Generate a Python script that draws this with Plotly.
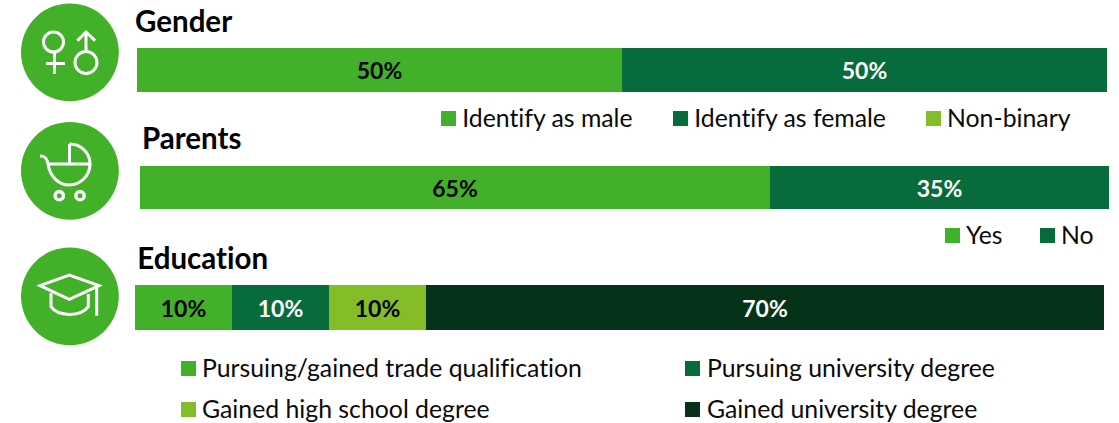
import plotly.graph_objects as go

W, H = 1119, 423
GREEN, DARK, LIME, DEEP = "#43B02A", "#076B3B", "#84BD28", "#05331A"
FONT = "Lato"

gender_labels = ["Identify as male", "Identify as female", "Non-binary"]
gender_values = [50, 50, 0]
parents_labels = ["Yes", "No"]
parents_values = [65, 35]
education_labels = ["Pursuing/gained trade qualification", "Pursuing university degree",
                    "Gained high school degree", "Gained university degree"]
education_values = [10, 10, 10, 70]

section_titles = ["Gender", "Parents", "Education"]

panels = [
    dict(name="Gender", labels=gender_labels, values=gender_values, colors=[GREEN, DARK, LIME],
         txt=["black", "white", "black"], box=(137, 1107, 48, 92)),
    dict(name="Parents", labels=parents_labels, values=parents_values, colors=[GREEN, DARK],
         txt=["black", "white"], box=(140, 1109, 166, 209)),
    dict(name="Education", labels=education_labels, values=education_values,
         colors=[GREEN, DARK, LIME, DEEP], txt=["black", "white", "black", "white"],
         box=(135, 1104, 285, 330)),
]

fig = go.Figure()
layout = {}
for i, p in enumerate(panels, start=1):
    x0, x1, y0, y1 = p["box"]
    sfx = "" if i == 1 else str(i)
    layout["xaxis" + sfx] = dict(domain=[x0 / W, x1 / W], range=[0, 100], visible=False, fixedrange=True,
                                 anchor="y" + sfx)
    layout["yaxis" + sfx] = dict(domain=[1 - y1 / H, 1 - y0 / H], visible=False, fixedrange=True,
                                 anchor="x" + sfx)
    for lab, val, col, tc in zip(p["labels"], p["values"], p["colors"], p["txt"]):
        fig.add_trace(go.Bar(
            y=[p["name"]], x=[val], orientation="h", name=lab, xaxis="x" + sfx, yaxis="y" + sfx,
            marker=dict(color=col, line=dict(width=0)),
            text=[f"{val}%" if val else ""], textposition="inside", insidetextanchor="middle",
            constraintext="none", textangle=0,
            textfont=dict(family=FONT, size=23, color=tc, weight="bold"),
            showlegend=False, hoverinfo="skip",
        ))

# pixel-space overlay axis for titles, legends and icons
layout["xaxis4"] = dict(domain=[0, 1], range=[0, W], visible=False, fixedrange=True, anchor="y4")
layout["yaxis4"] = dict(domain=[0, 1], range=[H, 0], visible=False, fixedrange=True, anchor="x4")
fig.add_trace(go.Scatter(x=[0], y=[0], xaxis="x4", yaxis="y4", mode="markers",
                         marker=dict(opacity=0), showlegend=False, hoverinfo="skip"))

annotations, shapes = [], []


def label(x, y, text, size, bold=False):
    annotations.append(dict(x=x, y=y, xref="x4", yref="y4", text=text, showarrow=False,
                            xanchor="left", yanchor="middle", xshift=0, borderpad=0,
                            font=dict(family=FONT, size=size, color="#0A0A0A" if not bold else "black",
                                      weight="bold" if bold else "normal")))


def swatch(x, y, color):
    shapes.append(dict(type="rect", xref="x4", yref="y4", x0=x, x1=x + 15, y0=y, y1=y + 15,
                       fillcolor=color, line=dict(width=0), layer="above"))


def stroke(path, w=3):
    shapes.append(dict(type="path", xref="x4", yref="y4", path=path, layer="above",
                       line=dict(color="white", width=w), fillcolor="rgba(0,0,0,0)"))


def ring(cx, cy, r, w=3):
    shapes.append(dict(type="circle", xref="x4", yref="y4", x0=cx - r, x1=cx + r, y0=cy - r, y1=cy + r,
                       layer="above", line=dict(color="white", width=w), fillcolor="rgba(0,0,0,0)"))


for title, pos in zip(section_titles, [(134, 20), (141, 137), (136, 257)]):
    label(pos[0], pos[1], title, 29.5, True)

legend_layout = [
    (gender_labels, [GREEN, DARK, LIME], [(441, 111, 461, 117), (673, 111, 693, 117), (926, 111, 946, 117)]),
    (parents_labels, [GREEN, DARK], [(945, 228, 965, 234), (1040, 228, 1060, 234)]),
    (education_labels, [GREEN, DARK, LIME, DEEP],
     [(181, 361, 201, 367), (685, 361, 706, 367), (181, 402, 201, 408), (685, 402, 706, 408)]),
]
for labs, cols, places in legend_layout:
    for lab, col, (sx, sy, tx, ty) in zip(labs, cols, places):
        swatch(sx, sy, col)
        label(tx, ty, lab, 24.8)

# round icon badges
for cy in (52.3, 170.8, 296.3):
    shapes.append(dict(type="circle", xref="x4", yref="y4", x0=21, x1=118.8, y0=cy - 48.9, y1=cy + 48.9,
                       fillcolor=GREEN, line=dict(width=0), layer="above"))

# gender icon
ring(53.5, 42, 10)
stroke("M54.5,53 L54.5,74 M46,63.5 L65,63.5")
ring(86, 62.5, 11)
stroke("M86,51 L86,32 M77.3,40.7 L86,32 L95,40.7")
# pram icon
stroke("M69.5,144 C81,144 90,153 90,164 L47.5,164 M69.5,144 L69.5,164")
stroke("M40,156 C45,156 47,158 48,164 C50,177 59,185 69,185 C80,185 90,176 90,164")
ring(59.3, 195.7, 4.2, 3.4)
ring(80, 195.7, 4.2, 3.4)
# cap icon
stroke("M40,285.7 L69.3,275 L99,285.7 L69.3,299.3 Z")
stroke("M51,293.3 L51,306.7 C58,317 81,317 88.3,306.7 L88.3,294")
stroke("M96.7,286.7 L96.7,315.7")

fig.update_layout(
    width=W, height=H, margin=dict(l=0, r=0, t=0, b=0), autosize=False,
    paper_bgcolor="white", plot_bgcolor="rgba(0,0,0,0)", barmode="stack", bargap=0,
    showlegend=False, annotations=annotations, shapes=shapes, **layout,
)
fig.write_html("out.html", config=dict(displayModeBar=False),
               post_script=("document.body.style.margin='0';"
                            "document.documentElement.style.overflow='hidden';"
                            "var s=document.createElement('style');"
                            "s.textContent='svg text{font-variant-ligatures:none !important}';"
                            "document.head.appendChild(s);"))
